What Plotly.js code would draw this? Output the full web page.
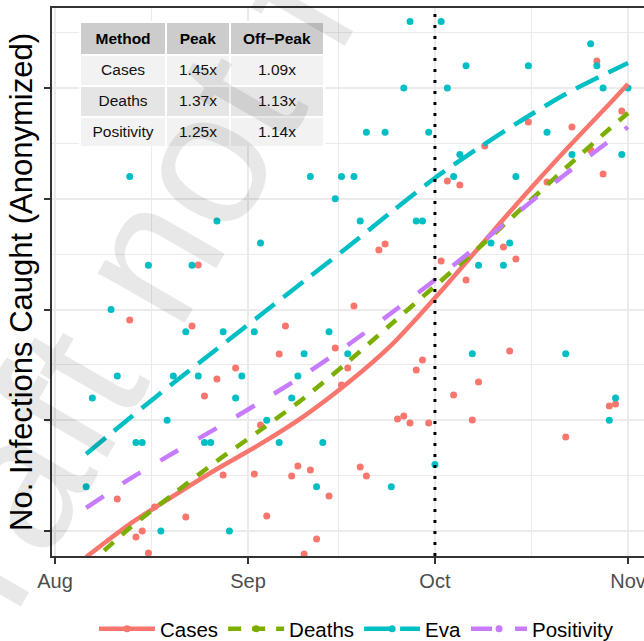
<!DOCTYPE html>
<html><head><meta charset="utf-8">
<script src="https://cdn.plot.ly/plotly-3.0.1.min.js"></script>
<style>html,body{margin:0;padding:0;background:#fff}</style>
</head><body><div id="chart" style="width:644px;height:641px"></div>
<script>
// ---- data ----
const seriesNames = ['Cases', 'Deaths', 'Eva', 'Positivity'];
const seriesColors = ['#F8766D', '#7CAE00', '#00BFC4', '#C77CFF'];

const fitDates = ['2020-08-06','2020-08-13','2020-08-20','2020-08-27','2020-09-03','2020-09-10','2020-09-17',
  '2020-09-24','2020-10-01','2020-10-08','2020-10-15','2020-10-22','2020-10-29','2020-11-01'];
const casesFit = [0.765,1.063,1.316,1.560,1.786,2.038,2.336,2.679,3.104,3.555,4.007,4.440,4.856,5.036];
const deathsFit = [0.675,1.027,1.334,1.632,1.912,2.201,2.526,2.869,3.212,3.555,3.916,4.278,4.630,4.774];
const evaFit = [1.695,2.020,2.336,2.643,2.950,3.257,3.564,3.880,4.187,4.458,4.711,4.946,5.144,5.226];
const positivityFit = [1.208,1.470,1.704,1.930,2.165,2.409,2.679,2.968,3.266,3.582,3.907,4.224,4.521,4.648];

const evaDates = ['2020-08-06','2020-08-07','2020-08-10','2020-08-11','2020-08-13','2020-08-14','2020-08-15','2020-08-16',
  '2020-08-18','2020-08-19','2020-08-20','2020-08-22','2020-08-23','2020-08-24','2020-08-25','2020-08-26','2020-08-27',
  '2020-08-28','2020-08-29','2020-08-30','2020-08-31','2020-09-02','2020-09-03','2020-09-04','2020-09-06','2020-09-08',
  '2020-09-09','2020-09-10','2020-09-11','2020-09-12','2020-09-13','2020-09-14','2020-09-15','2020-09-16','2020-09-17',
  '2020-09-18','2020-09-19','2020-09-20','2020-09-23','2020-09-24','2020-09-26','2020-09-27','2020-09-28','2020-09-29',
  '2020-09-30','2020-10-01','2020-10-02','2020-10-03','2020-10-04','2020-10-05','2020-10-06','2020-10-07','2020-10-08',
  '2020-10-10','2020-10-12','2020-10-13','2020-10-14','2020-10-16','2020-10-19','2020-10-22','2020-10-23','2020-10-26',
  '2020-10-27','2020-10-28','2020-10-29','2020-10-30','2020-10-31','2020-11-01'];
const evaVals = [1.4,2.2,3.0,2.4,4.2,1.8,1.8,3.4,
  1.0,2.0,2.4,2.8,3.4,2.4,1.8,1.8,3.8,
  2.8,1.0,2.2,2.4,2.8,3.6,2.0,1.8,2.2,
  2.4,2.6,4.2,1.4,1.8,2.8,4.0,4.2,2.6,
  4.2,3.8,4.6,4.6,1.4,5.0,5.6,3.8,3.8,
  4.6,1.6,5.6,5.0,4.2,4.4,5.2,2.6,3.4,
  3.6,3.4,3.6,4.2,5.2,4.6,2.6,4.4,5.4,
  5.2,5.0,2.0,2.2,4.4,5.0];

const casesDates = ['2020-08-11','2020-08-13','2020-08-14','2020-08-15','2020-08-16','2020-08-17','2020-08-22','2020-08-23',
  '2020-08-24','2020-08-25','2020-08-27','2020-08-28','2020-08-30','2020-09-02','2020-09-03','2020-09-04','2020-09-06',
  '2020-09-07','2020-09-08','2020-09-09','2020-09-10','2020-09-11','2020-09-12','2020-09-14','2020-09-15','2020-09-16',
  '2020-09-17','2020-09-18','2020-09-19','2020-09-20','2020-09-22','2020-09-23','2020-09-25','2020-09-26','2020-09-27',
  '2020-09-28','2020-09-29','2020-09-30','2020-10-02','2020-10-03','2020-10-04','2020-10-05','2020-10-06','2020-10-07',
  '2020-10-08','2020-10-09','2020-10-12','2020-10-13','2020-10-14','2020-10-16','2020-10-19','2020-10-22','2020-10-23',
  '2020-10-26','2020-10-27','2020-10-28','2020-10-29','2020-10-30','2020-10-31'];
const casesVals = [1.289,2.905,0.946,1.000,0.801,1.217,1.126,2.851,
  3.402,2.219,2.372,1.506,2.472,1.515,1.957,1.135,2.598,
  2.851,1.497,1.587,0.792,1.551,0.928,1.316,2.652,2.318,
  2.472,3.032,1.578,1.497,3.537,3.591,2.011,2.038,1.975,
  2.454,2.544,1.975,3.438,4.160,2.228,4.124,3.266,2.002,
  2.345,4.476,3.564,2.625,3.456,4.693,4.151,1.849,4.648,
  4.440,5.244,4.223,2.129,2.147,4.792];

const cutoffDate = '2020-10-01';
const monthTicks = ['2020-08-01','2020-09-01','2020-10-01','2020-11-01'];
const monthLabels = ['Aug','Sep','Oct','Nov'];
const midMonthTicks = ['2020-08-16 12:00','2020-09-15 12:00','2020-10-16 12:00'];
const yTicks = [1,2,3,4,5];
const yMinorTicks = [1.5,2.5,3.5,4.5,5.5];

const tableHeader = ['Method','Peak','Off\u2212Peak'];
const tableMethods = ['Cases','Deaths','Positivity'];
const tablePeak = ['1.45x','1.37x','1.25x'];
const tableOffPeak = ['1.09x','1.13x','1.14x'];

// ---- traces ----
const FONT = 'Liberation Sans, Arial, Helvetica, sans-serif';
const fits = [casesFit, deathsFit, evaFit, positivityFit];
const dashes = ['solid', '13px,11px', '25px,11px', '21px,23px'];
const traces = [];

traces.push({type:'scatter', mode:'markers', x:casesDates, y:casesVals, showlegend:false,
  marker:{color:seriesColors[0], size:7}, hoverinfo:'skip'});
traces.push({type:'scatter', mode:'markers', x:evaDates, y:evaVals, showlegend:false,
  marker:{color:seriesColors[2], size:7}, hoverinfo:'skip'});

fits.forEach((f, i) => {
  traces.push({type:'scatter', mode:'lines', x:fitDates, y:f, name:seriesNames[i], showlegend:false,
    line:{color:seriesColors[i], width:4.5, dash:dashes[i], shape:'spline', smoothing:0.8}, hoverinfo:'skip'});
});
// legend entries (line + point key)
seriesNames.forEach((n, i) => {
  traces.push({type:'scatter', mode:'lines+markers', x:[null], y:[null], name:n,
    line:{color:seriesColors[i], width:4.5, dash:dashes[i]}, marker:{color:seriesColors[i], size:7}});
});

const rowFills = ['#f2f2f2','#e5e5e5','#f2f2f2'];
traces.push({type:'table', domain:{x:[0.0473,0.461], y:[0.748,0.9745]}, columnwidth:[85,63,93],
  header:{values:tableHeader.map(h => '<b>' + h + '</b>'), fill:{color:'#cccccc'}, line:{color:'white', width:2},
    font:{family:FONT, size:15.5, color:'#000'}, height:31, align:'center'},
  cells:{values:[tableMethods, tablePeak, tableOffPeak], fill:{color:[rowFills, rowFills, rowFills]},
    line:{color:'white', width:2}, font:{family:FONT, size:15.5, color:'#111'}, height:31, align:'center'}});

const layout = {
  width:644, height:641,
  margin:{l:52, r:0, t:8, b:85},
  paper_bgcolor:'white', plot_bgcolor:'white',
  font:{family:FONT, color:'#000'},
  xaxis:{type:'date', range:['2020-07-31 12:30','2020-11-03 13:40'], automargin:false,
    tickmode:'array', tickvals:monthTicks, ticktext:monthLabels, ticklabeloverflow:'allow',
    ticks:'outside', ticklen:6, tickwidth:2, tickcolor:'#333',
    showline:true, linecolor:'#333', linewidth:2, mirror:true,
    showgrid:true, gridcolor:'#ebebeb', gridwidth:2, zeroline:false,
    minor:{tickmode:'array', tickvals:midMonthTicks, showgrid:true, gridcolor:'#ebebeb', gridwidth:1, ticks:''},
    tickfont:{family:FONT, size:20, color:'#4d4d4d'}},
  yaxis:{range:[0.7743,5.7223], automargin:false, tickmode:'array', tickvals:yTicks, showticklabels:false,
    ticks:'outside', ticklen:6, tickwidth:2, tickcolor:'#333',
    showline:true, linecolor:'#333', linewidth:2,
    showgrid:true, gridcolor:'#ebebeb', gridwidth:2, zeroline:false,
    minor:{tickmode:'array', tickvals:yMinorTicks, showgrid:true, gridcolor:'#ebebeb', gridwidth:1, ticks:''},
    title:{text:'No. Infections Caught (Anonymized)', font:{family:FONT, size:31, color:'#000'}, standoff:2}},
  legend:{orientation:'h', xref:'container', yref:'container', x:94/644, xanchor:'left', y:12/641, yanchor:'middle',
    itemwidth:56, font:{family:FONT, size:20.5, color:'#000'}, bgcolor:'rgba(0,0,0,0)'},
  shapes:[{type:'line', xref:'x', yref:'paper', x0:cutoffDate, x1:cutoffDate, y0:0, y1:1,
    line:{color:'#000', width:3, dash:'3px,8px'}, layer:'above'}],
  annotations:[{xref:'paper', yref:'paper', x:0.147, y:0.522, xanchor:'center', yanchor:'middle',
    text:'Draft not for', textangle:-60, showarrow:false,
    font:{family:FONT, size:190, color:'rgba(0,0,0,0.09)'}}]
};

Plotly.newPlot('chart', traces, layout, {displayModeBar:false, staticPlot:true});
</script></body></html>
